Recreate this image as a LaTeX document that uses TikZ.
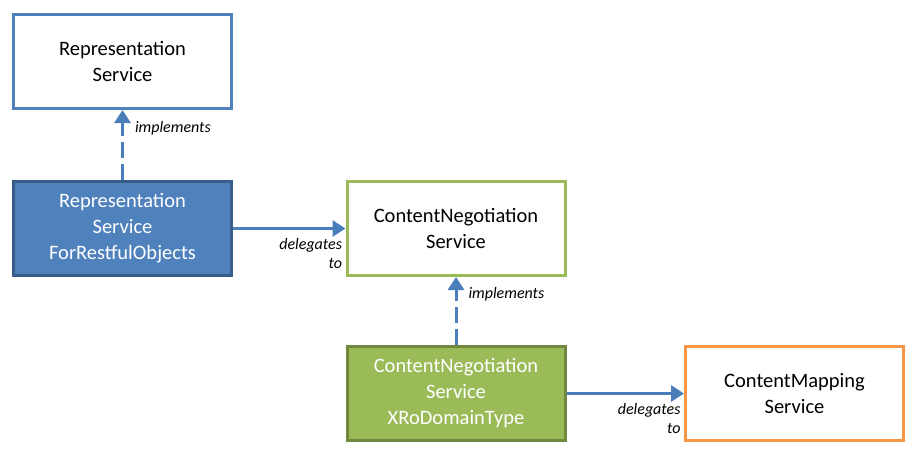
\documentclass[tikz,border=0pt]{standalone}
\usepackage{fontspec}
\setmainfont{Carlito}
\usetikzlibrary{arrows.meta}
\definecolor{svcblue}{HTML}{4F81BD}
\definecolor{svcblueline}{HTML}{385D8A}
\definecolor{svcgreen}{HTML}{9BBB59}
\definecolor{svcgreenline}{HTML}{71893F}
\definecolor{svcorange}{HTML}{F79646}
\definecolor{linkblue}{HTML}{4A7EBB}

\begin{document}
\begin{tikzpicture}[x=1pt,y=-1pt,
	svc/.style={draw,line width=3pt,fill=white,minimum width=218pt,minimum height=94pt,
		inner sep=0pt,align=center,font=\fontsize{20.5}{26}\selectfont},
	link/.style={line width=3pt,color=linkblue,-{Triangle[width=16pt,length=13pt]}},
	impl/.style={link,dash pattern=on 16pt off 6pt},
	tag/.style={font=\fontsize{16}{19}\selectfont\itshape,text=black,inner sep=2pt}]
	\useasboundingbox (0,0) rectangle (917,466);

	\node[svc,draw=svcblue] (repsvc) at (122.5,61.5) {Representation\\Service};
	\node[svc,draw=svcblueline,fill=svcblue,text=white] (reprosvc) at (122.5,228.5) {Representation\\Service\\ForRestfulObjects};
	\node[svc,draw=svcgreen] (cnsvc) at (456,228.5) {ContentNegotiation\\Service};
	\node[svc,draw=svcgreenline,fill=svcgreen,text=white] (cnxro) at (456,393.5) {ContentNegotiation\\Service\\XRoDomainType};
	\node[svc,draw=svcorange] (cmsvc) at (794.5,393.5) {ContentMapping\\Service};

	\draw[impl] (reprosvc) -- node[tag,right,pos=0.74,xshift=9pt] {implements} (repsvc);
	\draw[link] (reprosvc) -- node[tag,below left,align=right,pos=1,yshift=-6pt] {delegates\\to} (cnsvc);
	\draw[impl] (cnxro) -- node[tag,right,pos=0.74,xshift=9pt] {implements} (cnsvc);
	\draw[link] (cnxro) -- node[tag,below left,align=right,pos=1,yshift=-6pt] {delegates\\to} (cmsvc);

\end{tikzpicture}
\end{document}
